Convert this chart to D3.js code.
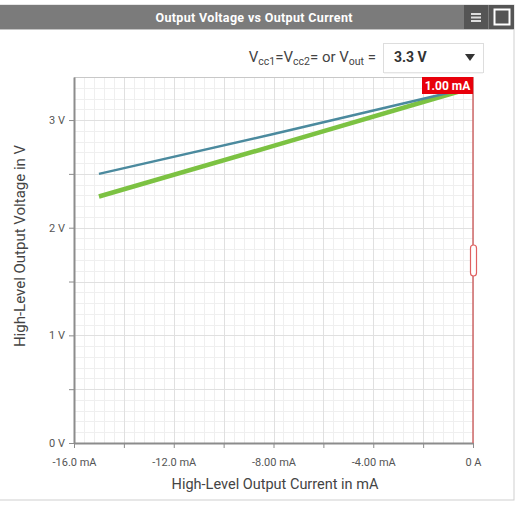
<!DOCTYPE html>
<html>
<head>
<meta charset="utf-8">
<script src="https://cdn.jsdelivr.net/npm/d3@7"></script>
<style>
  body { margin: 0; background: #fff; }
  svg { display: block; font-family: Roboto, "Liberation Sans", sans-serif; }
</style>
</head>
<body>
<svg width="531" height="505"></svg>
<script>
// chart values
const currentRange = [-16, 0];       // mA
const voltageRange = [0, 3.4];       // V
const xTickValues = [-16, -14, -12, -10, -8, -6, -4, -2, 0];
const xTickLabels = ['-16.0 mA', '', '-12.0 mA', '', '-8.00 mA', '', '-4.00 mA', '', '0 A'];
const yTickValues = [0, 0.5, 1, 1.5, 2, 2.5, 3];
const yTickLabels = ['0 V', '', '1 V', '', '2 V', '', '3 V'];

const blueCurrent = [-15, -8, -0.5];
const blueVoltage = [2.50, 2.87, 3.28];
const greenCurrent = [-15, -8, -0.5];
const greenVoltage = [2.29, 2.76, 3.27];

const cursorCurrent = 0;
const cursorLabel = '1.00 mA';

const svg = d3.select('svg');

// panel + title bar
svg.append('rect').attr('x', -1).attr('y', 5).attr('width', 515).attr('height', 495)
  .attr('fill', '#fff').attr('stroke', '#cfcfcf');
svg.append('rect').attr('x', -1).attr('y', 5).attr('width', 515).attr('height', 24)
  .attr('fill', '#7b7b7b');
svg.append('line').attr('x1', 0).attr('x2', 514).attr('y1', 29.5).attr('y2', 29.5)
  .attr('stroke', '#c4c4c4');
svg.append('text').attr('x', 254).attr('y', 22).attr('text-anchor', 'middle')
  .attr('fill', '#fff').attr('font-weight', 'bold').attr('font-size', 12.5)
  .attr('textLength', 197).text('Output Voltage vs Output Current');

// icons on the right of the title bar
svg.append('rect').attr('x', 464).attr('y', 5).attr('width', 24).attr('height', 24).attr('fill', '#555');
svg.append('rect').attr('x', 489).attr('y', 5).attr('width', 25).attr('height', 24).attr('fill', '#555');
[13, 16.5, 20].forEach(y => {
  svg.append('rect').attr('x', 471).attr('y', y).attr('width', 10).attr('height', 2).attr('fill', '#ddd');
});
svg.append('rect').attr('x', 494.5).attr('y', 9.5).attr('width', 15).attr('height', 15)
  .attr('fill', 'none').attr('stroke', '#fff').attr('stroke-width', 2);

// selector label + dropdown
const sel = svg.append('text').attr('x', 376).attr('y', 62).attr('text-anchor', 'end')
  .attr('fill', '#444').attr('font-size', 15);
sel.append('tspan').text('V');
sel.append('tspan').attr('font-size', 10.5).attr('dy', 3).text('cc1');
sel.append('tspan').attr('dy', -3).text('=V');
sel.append('tspan').attr('font-size', 10.5).attr('dy', 3).text('cc2');
sel.append('tspan').attr('dy', -3).text('= or V');
sel.append('tspan').attr('font-size', 10.5).attr('dy', 3).text('out');
sel.append('tspan').attr('dy', -3).text(' =');

svg.append('rect').attr('x', 383.5).attr('y', 43.5).attr('width', 100).attr('height', 29)
  .attr('fill', '#fff').attr('stroke', '#ddd');
svg.append('line').attr('x1', 384).attr('x2', 483).attr('y1', 73).attr('y2', 73).attr('stroke', '#eaeaea');
svg.append('text').attr('x', 394).attr('y', 62).attr('font-weight', 'bold').attr('font-size', 14)
  .attr('fill', '#333').text('3.3 V');
svg.append('path').attr('d', 'M465,54 L475,54 L470,61 Z').attr('fill', '#333');

// plot area
const margin = { left: 74, right: 473, top: 77, bottom: 443 };
const x = d3.scaleLinear().domain(currentRange).range([margin.left, margin.right]);
const y = d3.scaleLinear().domain(voltageRange).range([margin.bottom, margin.top]);

const grid = svg.append('g');
// minor grid
grid.selectAll('.vmin').data(d3.range(-16, 0.01, 0.4)).join('line')
  .attr('x1', d => Math.round(x(d)) + 0.5).attr('x2', d => Math.round(x(d)) + 0.5)
  .attr('y1', margin.top).attr('y2', margin.bottom)
  .attr('stroke', '#efefef');
grid.selectAll('.hmin').data(d3.range(0, 3.41, 0.1)).join('line')
  .attr('y1', d => Math.round(y(d)) + 0.5).attr('y2', d => Math.round(y(d)) + 0.5)
  .attr('x1', margin.left).attr('x2', margin.right)
  .attr('stroke', '#efefef');
// major grid
grid.selectAll('.vmaj').data(xTickValues).join('line')
  .attr('x1', d => Math.round(x(d)) + 0.5).attr('x2', d => Math.round(x(d)) + 0.5)
  .attr('y1', margin.top).attr('y2', margin.bottom)
  .attr('stroke', '#e0e0e0');
grid.selectAll('.hmaj').data(yTickValues).join('line')
  .attr('y1', d => Math.round(y(d)) + 0.5).attr('y2', d => Math.round(y(d)) + 0.5)
  .attr('x1', margin.left).attr('x2', margin.right)
  .attr('stroke', '#e0e0e0');
// top border of plot
svg.append('line').attr('x1', margin.left).attr('x2', margin.right)
  .attr('y1', margin.top + 0.5).attr('y2', margin.top + 0.5).attr('stroke', '#c8c8c8');

// axes
const xAxis = svg.append('g').attr('transform', `translate(0,${margin.bottom})`)
  .call(d3.axisBottom(x).tickValues(xTickValues).tickSize(5).tickSizeOuter(0)
    .tickFormat((d, i) => xTickLabels[i]));
const yAxis = svg.append('g').attr('transform', `translate(${margin.left},0)`)
  .call(d3.axisLeft(y).tickValues(yTickValues).tickSize(5).tickSizeOuter(0)
    .tickFormat((d, i) => yTickLabels[i]));
[xAxis, yAxis].forEach(a => {
  a.select('.domain').attr('stroke', '#8c8c8c').attr('stroke-width', 2);
  a.selectAll('.tick line').attr('stroke', '#8c8c8c');
  a.selectAll('.tick text').attr('fill', '#555').attr('font-size', 11)
    .attr('font-family', 'Roboto, sans-serif');
});
xAxis.selectAll('.tick text').attr('dy', '1.4em');
yAxis.selectAll('.tick text').attr('x', -9);

// axis titles
svg.append('text').attr('x', 275).attr('y', 489).attr('text-anchor', 'middle')
  .attr('fill', '#444').attr('font-size', 14.5).text('High-Level Output Current in mA');
svg.append('text').attr('transform', 'translate(25,246) rotate(-90)').attr('text-anchor', 'middle')
  .attr('fill', '#444').attr('font-size', 15).text('High-Level Output Voltage in V');

// series
const line = d3.line().x(d => x(d[0])).y(d => y(d[1]));
svg.append('path').datum(d3.zip(greenCurrent, greenVoltage))
  .attr('d', line).attr('fill', 'none').attr('stroke', '#7cc242').attr('stroke-width', 4.5);
svg.append('path').datum(d3.zip(blueCurrent, blueVoltage))
  .attr('d', line).attr('fill', 'none').attr('stroke', '#4b8a9e').attr('stroke-width', 2.5);

// cursor
const cx = x(cursorCurrent);
svg.append('line').attr('x1', cx).attr('x2', cx).attr('y1', margin.top).attr('y2', margin.bottom)
  .attr('stroke', '#d06868').attr('stroke-width', 1.5);
svg.append('rect').attr('x', cx - 2.5).attr('y', 245).attr('width', 6).attr('height', 31).attr('rx', 3)
  .attr('fill', '#fff').attr('stroke', '#e06060').attr('stroke-width', 1.2);
svg.append('rect').attr('x', cx - 51).attr('y', 77).attr('width', 51).attr('height', 17)
  .attr('fill', '#e8000b');
svg.append('text').attr('x', cx - 25.5).attr('y', 90).attr('text-anchor', 'middle')
  .attr('fill', '#fff').attr('font-weight', 'bold').attr('font-size', 12).text(cursorLabel);
</script>
</body>
</html>
